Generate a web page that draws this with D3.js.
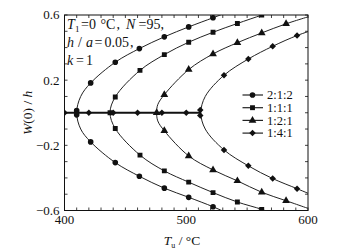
<!DOCTYPE html>
<html>
<head>
<meta charset="utf-8">
<script src="https://cdn.jsdelivr.net/npm/d3@7"></script>
<style>
  body { margin: 0; background: #fff; }
  svg { display: block; font-family: "Liberation Serif", "Times New Roman", serif; }
</style>
</head>
<body>
<svg id="chart" width="340" height="251"></svg>
<script>
// legend names, in drawing order
const seriesNames = ["2:1:2", "1:1:1", "1:2:1", "1:4:1"];
const seriesSymbols = ["circle", "square", "triangle", "diamond"];

// branch points [T, W(0)/h, hasMarker], upper end -> vertex -> lower end
const curve212 = [
  [535, 0.62, 0], [522, 0.583, 1], [502, 0.527, 1], [482, 0.466, 1], [461.5, 0.394, 1],
  [441.7, 0.31, 1], [421.5, 0.183, 1], [413.3, 0.1, 0], [410, 0, 0],
  [413.3, -0.1, 0], [421.5, -0.179, 1], [441.7, -0.306, 1], [461.5, -0.39, 1],
  [482, -0.463, 1], [502, -0.519, 1], [522, -0.577, 1], [535, -0.62, 0]
];
const curve111 = [
  [571, 0.62, 0], [562, 0.599, 1], [542, 0.548, 1], [522, 0.494, 1], [502, 0.433, 1],
  [482, 0.357, 1], [462, 0.26, 1], [441.7, 0.097, 1], [437.4, 0, 0],
  [441.7, -0.097, 1], [462, -0.26, 1], [482, -0.357, 1], [502, -0.426, 1],
  [522, -0.49, 1], [542, -0.548, 1], [562, -0.593, 1], [571, -0.62, 0]
];
const curve121 = [
  [605, 0.60, 0], [582, 0.546, 1], [562, 0.49, 1], [542, 0.43, 1], [522, 0.361, 1],
  [502, 0.265, 1], [482, 0.111, 1], [476.6, 0.05, 0], [475.7, 0, 0],
  [476.6, -0.05, 0], [482, -0.111, 1], [502, -0.265, 1], [522, -0.351, 1],
  [542, -0.418, 1], [562, -0.488, 1], [582, -0.54, 1], [605, -0.60, 0]
];
const curve141 = [
  [605, 0.51, 0], [591, 0.474, 1], [571, 0.408, 1], [551, 0.33, 1], [531, 0.23, 1],
  [515.6, 0.1, 0], [512, 0, 0],
  [515.6, -0.1, 0], [531, -0.228, 1], [551, -0.326, 1], [571, -0.404, 1],
  [591, -0.466, 1], [605, -0.51, 0]
];
const curves = [curve212, curve111, curve121, curve141];

// trivial branch W = 0 and the markers sitting on it [T, W, series index]
const zeroLine = [400, 512];
const zeroMarks = [
  [400, 0, 3], [420, 0, 3], [440, 0, 3], [460, 0, 3], [480, 0, 3], [500, 0, 3],
  [511.5, 0.017, 3], [511.5, -0.017, 3],
  [410, 0.013, 0], [410, -0.013, 0], [437.4, 0, 1], [475.7, 0, 2]
];

const xTickLabels = [400, 500, 600];
const yTickLabels = [0.6, 0.2, -0.2, -0.6];

const svg = d3.select("#chart");
const x = d3.scaleLinear().domain([400, 600]).range([64.5, 308]);
const y = d3.scaleLinear().domain([-0.6, 0.6]).range([210.5, 15]);
const ink = "#111";

svg.append("clipPath").attr("id", "plot")
  .append("rect")
  .attr("x", x(400)).attr("y", y(0.6))
  .attr("width", x(600) - x(400)).attr("height", y(-0.6) - y(0.6));

// frame and inward ticks
svg.append("rect")
  .attr("x", x(400)).attr("y", y(0.6))
  .attr("width", x(600) - x(400)).attr("height", y(-0.6) - y(0.6))
  .attr("fill", "none").attr("stroke", ink).attr("stroke-width", 1);

const tl = 3;
const ticks = svg.append("g").attr("stroke", ink).attr("stroke-width", 0.8);
d3.range(400, 601, 10).forEach(t => {
  ticks.append("line").attr("x1", x(t)).attr("x2", x(t)).attr("y1", y(-0.6)).attr("y2", y(-0.6) - tl);
  ticks.append("line").attr("x1", x(t)).attr("x2", x(t)).attr("y1", y(0.6)).attr("y2", y(0.6) + tl);
});
d3.range(-6, 7).forEach(k => {
  const v = k / 10;
  ticks.append("line").attr("x1", x(400)).attr("x2", x(400) + tl).attr("y1", y(v)).attr("y2", y(v));
  ticks.append("line").attr("x1", x(600)).attr("x2", x(600) - tl).attr("y1", y(v)).attr("y2", y(v));
});

svg.append("g").selectAll("text").data(xTickLabels).join("text")
  .attr("x", d => x(d)).attr("y", 224)
  .attr("text-anchor", "middle").attr("font-size", 13).attr("fill", ink)
  .text(d => d);

svg.append("g").selectAll("text").data(yTickLabels).join("text")
  .attr("x", 59.5).attr("y", d => y(d) + 4.4)
  .attr("text-anchor", "end").attr("font-size", 13).attr("fill", ink)
  .text(d => (d < 0 ? "\u2212" : "") + Math.abs(d).toFixed(1));

// axis titles
const xt = svg.append("text").attr("x", 182).attr("y", 245)
  .attr("text-anchor", "middle").attr("font-size", 13.5).attr("fill", ink);
xt.append("tspan").attr("font-style", "italic").text("T");
xt.append("tspan").attr("font-size", 8).attr("dy", 3).text("u");
xt.append("tspan").attr("dy", -3).text(" / \u00B0C");

const yt = svg.append("text")
  .attr("transform", `translate(32,${y(0)}) rotate(-90)`)
  .attr("text-anchor", "middle").attr("font-size", 13.5).attr("fill", ink);
yt.append("tspan").attr("font-style", "italic").text("W");
yt.append("tspan").text("(0) / ");
yt.append("tspan").attr("font-style", "italic").text("h");

// annotation, pieces placed as in the figure
const note = svg.append("g").attr("font-size", 14).attr("fill", ink);
function piece(t, px, py, txt, italic, size) {
  const s = t.append("tspan").attr("x", px).attr("y", py).text(txt);
  if (italic) s.attr("font-style", "italic");
  if (size) s.attr("font-size", size);
}
const l1 = note.append("text");
piece(l1, 67, 29, "T", true);
piece(l1, 75, 32, "1", false, 9);
piece(l1, 81, 29, "=0");
piece(l1, 100.5, 29, "\u00B0C");
piece(l1, 116.5, 29, ",");
piece(l1, 126, 29, "N", true);
piece(l1, 138.5, 29, "=95,");
const l2 = note.append("text");
piece(l2, 67, 46.5, "h", true);
piece(l2, 78, 46.5, "/");
piece(l2, 86, 46.5, "a", true);
piece(l2, 94.5, 46.5, "=");
piece(l2, 104.5, 46.5, "0.05");
piece(l2, 130, 46.5, ",");
const l3 = note.append("text");
piece(l3, 67, 64.5, "k", true);
piece(l3, 76, 64.5, "=");
piece(l3, 86, 64.5, "1");

// markers: diamond is a square turned by 45 degrees
const symSize = { circle: 25, square: 24, triangle: 26, diamond: 21 };
const symbolOf = name => d3.symbol()
  .type({ circle: d3.symbolCircle, square: d3.symbolSquare, triangle: d3.symbolTriangle, diamond: d3.symbolSquare }[name])
  .size(symSize[name]);
const rot = name => (name === "diamond" ? " rotate(45)" : "");

const plot = svg.append("g").attr("clip-path", "url(#plot)");

plot.append("line")
  .attr("x1", x(zeroLine[0])).attr("x2", x(zeroLine[1]))
  .attr("y1", y(0)).attr("y2", y(0))
  .attr("stroke", ink).attr("stroke-width", 1.8);

const line = d3.line().x(d => x(d[0])).y(d => y(d[1])).curve(d3.curveCatmullRom.alpha(0.5));

curves.forEach((c, i) => {
  const s = seriesSymbols[i];
  plot.append("path").datum(c).attr("d", line)
    .attr("fill", "none").attr("stroke", "#222").attr("stroke-width", 1);
  plot.append("g").selectAll("path").data(c.filter(d => d[2])).join("path")
    .attr("transform", d => `translate(${x(d[0])},${y(d[1])})` + rot(s))
    .attr("d", symbolOf(s)).attr("fill", ink);
});

plot.append("g").selectAll("path").data(zeroMarks).join("path")
  .attr("transform", d => `translate(${x(d[0])},${y(d[1])})` + rot(seriesSymbols[d[2]]))
  .attr("d", d => symbolOf(seriesSymbols[d[2]])()).attr("fill", ink);

// legend
const lg = svg.append("g");
seriesNames.forEach((name, i) => {
  const yy = 95 + i * 12.7;
  const s = seriesSymbols[i];
  lg.append("line").attr("x1", 242.5).attr("x2", 263).attr("y1", yy).attr("y2", yy)
    .attr("stroke", "#222").attr("stroke-width", 1.2);
  lg.append("path").attr("transform", `translate(252.5,${yy})` + rot(s))
    .attr("d", symbolOf(s)).attr("fill", ink);
  lg.append("text").attr("x", 267).attr("y", yy + 4.2)
    .attr("font-size", 12.5).attr("fill", ink).text(name);
});
</script>
</body>
</html>
